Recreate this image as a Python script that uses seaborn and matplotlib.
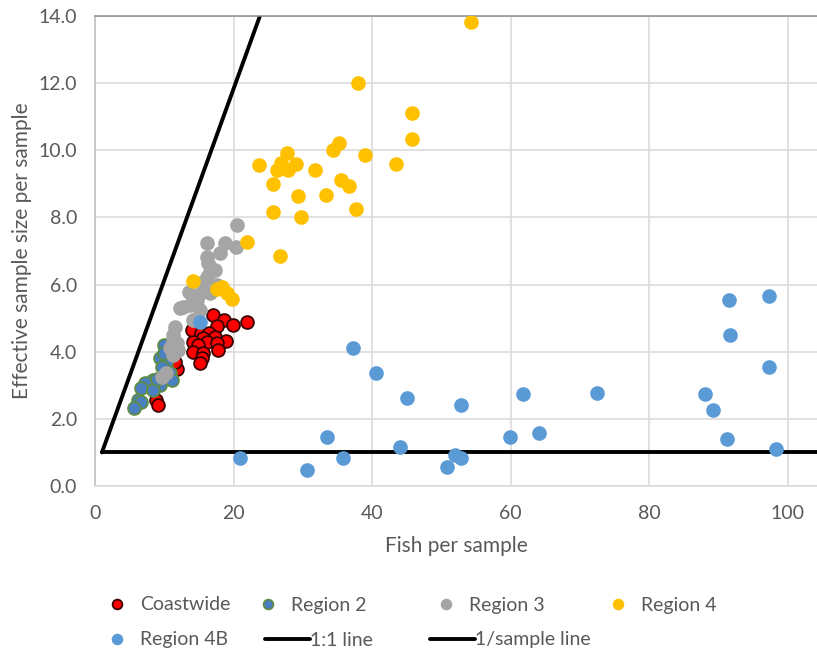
import pandas as pd
import seaborn as sns
import matplotlib
matplotlib.use('Agg')
import matplotlib.pyplot as plt
from matplotlib.lines import Line2D

# Data
coast_x = [17.1, 18.6, 19.9, 22.0, 17.6, 14.0, 15.3, 16.5, 15.6, 17.3, 18.9, 14.2, 16.1, 14.9,
           17.6, 14.2, 15.6, 17.8, 15.4, 15.1, 11.8, 8.8, 9.1, 11.5]
coast_y = [5.09, 4.94, 4.80, 4.88, 4.77, 4.65, 4.55, 4.55, 4.40, 4.45, 4.33, 4.30, 4.30, 4.20,
           4.25, 4.00, 3.95, 4.05, 3.80, 3.65, 3.50, 2.56, 2.41, 3.70]

reg2_x = [9.9, 9.4, 10.3, 9.6, 10.8, 8.4, 7.2, 9.4, 6.7, 11.1, 8.4, 6.2, 6.7, 5.7, 8.9, 10.0]
reg2_y = [4.20, 3.80, 3.65, 3.55, 3.36, 3.16, 3.06, 3.01, 2.91, 3.16, 2.86, 2.56, 2.51, 2.31, 3.20, 3.95]

reg3_x = [20.5, 16.1, 18.8, 18.0, 20.4, 16.1, 16.3, 16.6, 17.3, 16.1, 15.6, 17.6, 15.4, 13.5, 16.6,
          14.2, 12.7, 12.3, 13.7, 14.7, 15.2, 14.2, 11.5, 11.3, 11.3, 10.8, 11.3, 9.6, 10.3, 12.0, 11.8]
reg3_y = [7.77, 7.23, 7.23, 6.95, 7.11, 6.83, 6.63, 6.38, 6.43, 6.23, 6.09, 5.99, 5.79, 5.79, 5.74,
          5.49, 5.34, 5.29, 5.39, 5.54, 5.24, 4.94, 4.75, 4.50, 4.30, 4.10, 3.90, 3.26, 3.36, 4.05, 4.25]

reg4_x = [54.2, 37.9, 45.8, 45.7, 35.2, 34.4, 38.9, 43.5, 27.7, 23.7, 26.9, 29.0, 26.2, 27.9, 31.8,
          25.7, 35.5, 36.7, 29.3, 33.4, 25.7, 29.8, 37.7, 22.0, 26.7, 14.1, 17.6, 18.4, 19.1, 19.7]
reg4_y = [13.82, 12.01, 11.10, 10.33, 10.23, 10.01, 9.85, 9.58, 9.91, 9.56, 9.61, 9.58, 9.41, 9.41, 9.41,
          9.01, 9.11, 8.94, 8.64, 8.67, 8.16, 8.02, 8.24, 7.28, 6.85, 6.11, 5.86, 5.92, 5.74, 5.56]

reg4b_x = [20.9, 30.6, 33.5, 35.8, 37.2, 40.5, 44.0, 45.0, 50.8, 52.0, 52.8, 52.8, 59.9, 61.8,
           64.1, 72.4, 88.0, 89.2, 91.5, 91.6, 91.2, 97.3, 97.3, 98.3, 15.2]
reg4b_y = [0.83, 0.48, 1.46, 0.83, 4.11, 3.37, 1.16, 2.62, 0.57, 0.92, 0.83, 2.41, 1.46, 2.74,
           1.58, 2.77, 2.74, 2.26, 5.54, 4.50, 1.40, 5.66, 3.54, 1.10, 4.90]

one_x = [1, 23.8]
one_y = [1, 14]
sample_x = [1, 110]
sample_y = [1, 1]

sns.set_theme(style="whitegrid")
plt.rcParams['font.family'] = ['Lato', 'DejaVu Sans']
txt = "#595959"

fig = plt.figure(figsize=(8.17, 6.52), dpi=100)
ax = fig.add_axes([95 / 817, 166 / 652, 1 - 95 / 817, (486 - 16) / 652])

sns.lineplot(x=one_x, y=one_y, ax=ax, color="black", lw=2.8, sort=False)
sns.lineplot(x=sample_x, y=sample_y, ax=ax, color="black", lw=2.8, sort=False)

series = [
    ("Coastwide", coast_x, coast_y, "#FF0000", "#3A0000"),
    ("Region 2", reg2_x, reg2_y, "#4A7FC1", "#5E8C45"),
    ("Region 3", reg3_x, reg3_y, "#A5A5A5", "#A5A5A5"),
    ("Region 4", reg4_x, reg4_y, "#FFC000", "#FFC000"),
    ("Region 4B", reg4b_x, reg4b_y, "#5B9BD5", "#5B9BD5"),
]
handles = {}
for name, xs, ys, fc, ec in series:
    df = pd.DataFrame({"x": xs, "y": ys})
    sns.scatterplot(data=df, x="x", y="y", ax=ax, s=85, color=fc, edgecolor=ec,
                    linewidth=1.3, zorder=3)
    handles[name] = Line2D([], [], marker="o", ls="", markersize=7, markerfacecolor=fc,
                           markeredgecolor=ec, markeredgewidth=1.3)
handles["1:1 line"] = Line2D([], [], color="black", lw=2.8)
handles["1/sample line"] = Line2D([], [], color="black", lw=2.8)

ax.set_xlim(0, 104.2)
ax.set_ylim(0, 14)
ax.set_xticks([0, 20, 40, 60, 80, 100])
ax.set_yticks([0, 2, 4, 6, 8, 10, 12, 14])
ax.set_yticklabels([f"{v:.1f}" for v in ax.get_yticks()])
ax.grid(True, color="#D9D9D9", lw=1.1)
ax.set_axisbelow(True)
ax.spines["right"].set_visible(False)
ax.spines["top"].set_color("#8C8C8C")
ax.spines["left"].set_color("#BFBFBF")
ax.spines["bottom"].set_color("#D9D9D9")
for sp in ax.spines.values():
    sp.set_linewidth(1.1)
ax.tick_params(colors=txt, labelsize=14, length=0)
ax.tick_params(axis="y", pad=13)
ax.tick_params(axis="x", pad=13.5)
ax.set_xlabel("Fish per sample", fontsize=15, color=txt, labelpad=10)
ax.set_ylabel("Effective sample size per sample", fontsize=15, color=txt, labelpad=4.5)

# legend entries placed one by one, as in the original layout
legend_pos = [("Coastwide", 95, 605), ("Region 2", 246, 605), ("Region 3", 424, 605),
              ("Region 4", 596, 605), ("Region 4B", 95, 640), ("1:1 line", 265, 640),
              ("1/sample line", 430, 640)]
for name, px, py in legend_pos:
    leg = fig.legend([handles[name]], [name], loc="center left",
                     bbox_to_anchor=(px / 817, 1 - py / 652), frameon=False, fontsize=14,
                     handlelength=2.3, handletextpad=0.0, borderpad=0, borderaxespad=0)
    for t in leg.get_texts():
        t.set_color(txt)

fig.savefig("out.png", dpi=100)
